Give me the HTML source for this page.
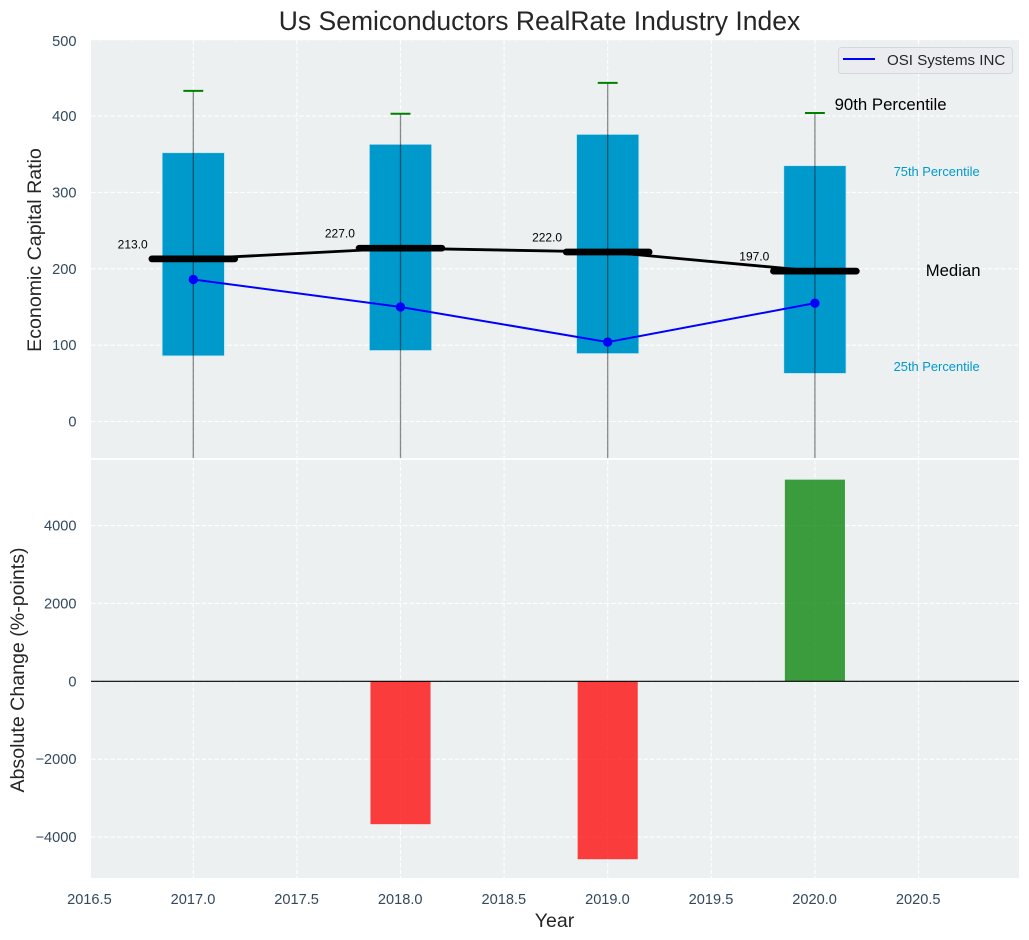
<!DOCTYPE html>
<html>
<head>
<meta charset="utf-8">
<title>Us Semiconductors RealRate Industry Index</title>
<style>
html,body{margin:0;padding:0;background:#fff;width:1029px;height:940px;overflow:hidden}
svg{display:block;font-family:"Liberation Sans",Arial,sans-serif}
</style>
</head>
<body>
<svg id="chart" xmlns="http://www.w3.org/2000/svg" width="1029" height="940" viewBox="0 0 1029 940">
  <defs>
    <clipPath id="top-clip"><rect x="91" y="40" width="928" height="418"/></clipPath>
    <clipPath id="bottom-clip"><rect x="91" y="460" width="928" height="418"/></clipPath>
  </defs>
  <text x="539.5" y="30" font-size="26.5" fill="#262626" text-anchor="middle">Us Semiconductors RealRate Industry Index</text>
  <rect x="91" y="40" width="928" height="418" fill="#ecf0f1"/>
  <rect x="91" y="460" width="928" height="418" fill="#ecf0f1"/>
  <g id="grid"></g>
  <g id="upper" clip-path="url(#top-clip)"></g>
  <g id="lower" clip-path="url(#bottom-clip)"></g>
  <g id="ticks"></g>
  <text transform="translate(41,250) rotate(-90)" font-size="19.6" fill="#262626" text-anchor="middle">Economic Capital Ratio</text>
  <text transform="translate(24,670) rotate(-90)" font-size="19.6" fill="#262626" text-anchor="middle">Absolute Change (%-points)</text>
  <text x="554.5" y="927" font-size="19.5" fill="#262626" text-anchor="middle">Year</text>
  <g>
    <rect x="838.5" y="47.5" width="174" height="26" rx="3" fill="#eaecf0" stroke="#d5d7dc" stroke-width="1"/>
    <line x1="843" y1="59" x2="875" y2="59" stroke="#0000ff" stroke-width="2"/>
    <text x="887" y="65" font-size="15.1" fill="#262626">OSI Systems INC</text>
  </g>
</svg>
<script>
const years = [2017, 2018, 2019, 2020];
const p90 = [433, 403, 443.5, 404];
const p75 = [352, 363, 376, 335];
const medians = [213, 227, 222, 197];
const p25 = [86, 93, 89, 63];
const p10 = [-100, -100, -100, -100];
const company = [186, 150, 104, 155];
const changeYears = [2018, 2019, 2020];
const changes = [-3670, -4570, 5180];
const xTicks = [2016.5, 2017, 2017.5, 2018, 2018.5, 2019, 2019.5, 2020, 2020.5];
const upperTicks = [0, 100, 200, 300, 400, 500];
const lowerTicks = [-4000, -2000, 0, 2000, 4000];

const X = v => 193.3 + (v - 2017) * 207.2;
const Y = v => 421.5 - v * 0.7635;
const Y2 = v => 681.3 - v * 0.03893;
const NS = 'http://www.w3.org/2000/svg';
function mk(parent, tag, attrs, text) {
  const el = document.createElementNS(NS, tag);
  for (const k in attrs) el.setAttribute(k, attrs[k]);
  if (text !== undefined) el.textContent = text;
  parent.appendChild(el);
  return el;
}
const grid = document.getElementById('grid');
const upper = document.getElementById('upper');
const lower = document.getElementById('lower');
const ticks = document.getElementById('ticks');
const gridStyle = {stroke: '#ffffff', 'stroke-width': 1.1, 'stroke-dasharray': '4.5 2', opacity: 0.95};
const fmt = v => String(v).replace('-', '\u2212');

xTicks.forEach(t => {
  [[40, 458], [460, 878]].forEach(r => {
    const g = mk(grid, 'line', Object.assign({x1: X(t), x2: X(t), y1: r[0], y2: r[1]}, gridStyle));
    
    
  });
  const label = mk(ticks, 'text', {x: X(t) - 0.3, y: 904, 'font-size': 14.6, fill: '#34495e', 'text-anchor': 'middle'}, t.toFixed(1));
  
  
});
upperTicks.forEach(t => {
  const g = mk(grid, 'line', Object.assign({x1: 91, x2: 1019, y1: Y(t), y2: Y(t)}, gridStyle));
  
  
  const label = mk(ticks, 'text', {x: 76.5, y: Math.max(Y(t), 41) + 5, 'font-size': 14.6, fill: '#34495e', 'text-anchor': 'end'}, fmt(t));
  
  
});
lowerTicks.forEach(t => {
  const g = mk(grid, 'line', Object.assign({x1: 91, x2: 1019, y1: Y2(t), y2: Y2(t)}, gridStyle));
  
  
  const label = mk(ticks, 'text', {x: 76.5, y: Y2(t) + 5, 'font-size': 14.6, fill: '#34495e', 'text-anchor': 'end'}, fmt(t));
  
  
});

const boxHalf = 0.15;
years.forEach((yr, i) => {
  const box = mk(upper, 'rect', {x: X(yr - boxHalf), width: X(yr + boxHalf) - X(yr - boxHalf), y: Y(p75[i]), height: Y(p25[i]) - Y(p75[i]), fill: '#0099cc', stroke: '#bfe3ef', 'stroke-width': 0.7});
  
  
});
years.forEach((yr, i) => {
  const w = mk(upper, 'line', {x1: X(yr), x2: X(yr), y1: Y(p90[i]), y2: Y(p10[i]), stroke: '#000', 'stroke-width': 1.3, 'stroke-opacity': 0.45});
  
  
  const cap = mk(upper, 'line', {x1: X(yr - 0.048), x2: X(yr + 0.048), y1: Y(p90[i]), y2: Y(p90[i]), stroke: '#008000', 'stroke-width': 2});
  
  
});
const medianLine = mk(upper, 'polyline', {points: years.map((yr, i) => X(yr) + ',' + Y(medians[i])).join(' '), fill: 'none', stroke: '#000', 'stroke-width': 2.8});


years.forEach((yr, i) => {
  const m = mk(upper, 'line', {x1: X(yr - 0.2), x2: X(yr + 0.2), y1: Y(medians[i]), y2: Y(medians[i]), stroke: '#000', 'stroke-width': 6.7, 'stroke-linecap': 'round'});
  
  
  const label = mk(upper, 'text', {x: X(yr - 0.365), y: Y(medians[i]) - 10.5, 'font-size': 12, fill: '#000'}, medians[i].toFixed(1));
  
  
});
const companyLine = mk(upper, 'polyline', {points: years.map((yr, i) => X(yr) + ',' + Y(company[i])).join(' '), fill: 'none', stroke: '#0000ff', 'stroke-width': 2});


years.forEach((yr, i) => {
  const d = mk(upper, 'circle', {cx: X(yr), cy: Y(company[i]), r: 4.7, fill: '#0000ff'});
  
  
});

const last = years.length - 1;
const lastYear = years[last];
const t90 = mk(upper, 'text', {x: X(lastYear + 0.095), y: Y(p90[last]) - 3, 'font-size': 16.8, fill: '#000'}, '90th Percentile');


const t75 = mk(upper, 'text', {x: X(lastYear + 0.38), y: Y(p75[last]) + 10.3, 'font-size': 12.9, fill: '#0099cc'}, '75th Percentile');


const tMed = mk(upper, 'text', {x: X(lastYear + 0.535), y: Y(medians[last]) + 5, 'font-size': 16.7, fill: '#000'}, 'Median');


const t25 = mk(upper, 'text', {x: X(lastYear + 0.38), y: Y(p25[last]) - 2.4, 'font-size': 12.9, fill: '#0099cc'}, '25th Percentile');



changeYears.forEach((yr, i) => {
  const v = changes[i];
  const top = Y2(Math.max(v, 0));
  const bottom = Y2(Math.min(v, 0));
  const bar = mk(lower, 'rect', {x: X(yr - 0.145), width: X(yr + 0.145) - X(yr - 0.145), y: top, height: bottom - top, fill: v < 0 ? '#ff0000' : '#008000', 'fill-opacity': 0.75});
  
  
});
const zero = mk(lower, 'line', {x1: 91, x2: 1019, y1: Y2(0), y2: Y2(0), stroke: '#000', 'stroke-width': 1.2});


</script>
</body>
</html>
